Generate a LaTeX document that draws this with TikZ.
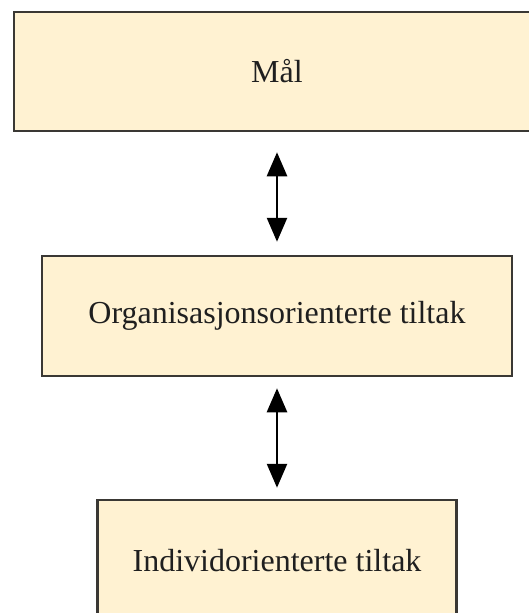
\documentclass[tikz,border=0pt]{standalone}
\usepackage{fontspec}
\setmainfont{Liberation Serif}
\usetikzlibrary{arrows.meta}
\definecolor{boxfill}{RGB}{255,242,210}
\definecolor{boxline}{RGB}{58,56,52}
\begin{document}
\begin{tikzpicture}[x=1pt,y=-1pt,
  levelbox/.style={draw=boxline, line width=2.5pt, fill=boxfill, inner sep=0pt,
    font=\fontsize{32}{38}\selectfont, text=black!88},
  link/.style={line width=2.6pt, {Triangle[width=20pt,length=24pt]}-{Triangle[width=20pt,length=24pt]}}]
  \useasboundingbox (0,0) rectangle (529,613);
  \clip (0,0) rectangle (529,613);
  \fill[white] (0,0) rectangle (529,613);
  % three stacked levels
  \node[levelbox, minimum width=526pt, minimum height=119pt] (goal) at (277,71.5) {Mål};
  \node[levelbox, minimum width=470pt, minimum height=120pt] (org) at (277,316) {Organisasjonsorienterte tiltak};
  \node[levelbox, minimum width=359pt, minimum height=122pt] (ind) at (277,561) {Individorienterte tiltak};
  % two-way links between the levels
  \draw[link, shorten <=20pt, shorten >=13pt] (goal.south) -- (org.north);
  \draw[link, shorten <=11pt, shorten >=11pt] (org.south) -- (ind.north);
\end{tikzpicture}
\end{document}
